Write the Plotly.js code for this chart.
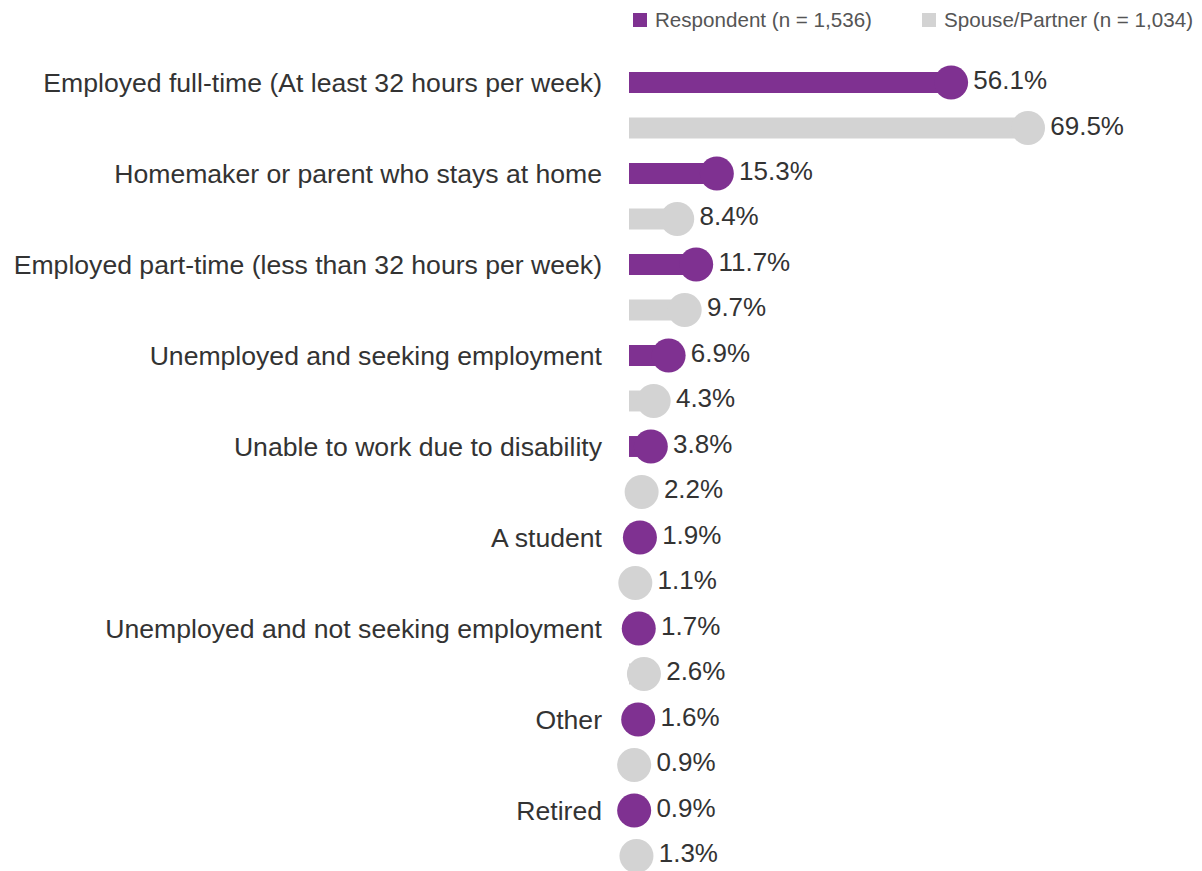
<!DOCTYPE html>
<html>
<head>
<meta charset="utf-8">
<script src="https://cdn.plot.ly/plotly-3.0.1.min.js"></script>
<style>html,body{margin:0;padding:0;background:#fff;}#chart{width:1202px;height:871px;}</style>
</head>
<body>
<div id="chart"></div>
<script>
const categories = [
  "Employed full-time (At least 32 hours per week)",
  "Homemaker or parent who stays at home",
  "Employed part-time (less than 32 hours per week)",
  "Unemployed and seeking employment",
  "Unable to work due to disability",
  "A student",
  "Unemployed and not seeking employment",
  "Other",
  "Retired"
];
const respondent = [56.1, 15.3, 11.7, 6.9, 3.8, 1.9, 1.7, 1.6, 0.9];
const spouse = [69.5, 8.4, 9.7, 4.3, 2.2, 1.1, 2.6, 0.9, 1.3];
const seriesNames = ["Respondent (n = 1,536)", "Spouse/Partner (n = 1,034)"];
const colors = ["#7f3191", "#d3d3d3"];

const rowsR = categories.map((c, i) => 2 * i);
const rowsS = categories.map((c, i) => 2 * i + 1);
const fmt = v => v.toFixed(1) + "%";
const font = "Arial, 'Liberation Sans', sans-serif";

const barW = 0.46;
const traces = [
  {type: "bar", orientation: "h", name: seriesNames[0], x: respondent, y: rowsR, width: barW,
   marker: {color: colors[0]}, hoverinfo: "skip"},
  {type: "bar", orientation: "h", name: seriesNames[1], x: spouse, y: rowsS, width: barW,
   marker: {color: colors[1]}, hoverinfo: "skip"},
  {type: "scatter", mode: "markers+text", name: seriesNames[0], x: respondent, y: rowsR, text: respondent.map(fmt),
   textposition: "middle right", textfont: {size: 26, color: "#333", family: font},
   marker: {size: 34, color: colors[0]}, cliponaxis: false, hoverinfo: "skip"},
  {type: "scatter", mode: "markers+text", name: seriesNames[1], x: spouse, y: rowsS, text: spouse.map(fmt),
   textposition: "middle right", textfont: {size: 26, color: "#333", family: font},
   marker: {size: 34, color: colors[1]}, cliponaxis: false, hoverinfo: "skip"}
];

// Legend drawn as swatches + labels at the top
const legendX = [633, 922];
const shapes = legendX.map((x, i) => ({
  type: "rect", xref: "paper", yref: "paper",
  x0: (x - 629) / 573, x1: (x + 14 - 629) / 573,
  y0: 1 + (40 - 27) / 831, y1: 1 + (40 - 13) / 831,
  fillcolor: colors[i], line: {width: 0}, layer: "above"
}));
const annotations = legendX.map((x, i) => ({
  xref: "paper", yref: "paper", x: (x + 20 - 629) / 573, y: 1 + (40 - 20) / 831,
  xanchor: "left", yanchor: "middle", showarrow: false, text: seriesNames[i],
  font: {size: 20.6, color: "#555", family: font}
}));

const layout = {
  width: 1202, height: 871,
  margin: {l: 629, r: 0, t: 40, b: 0, pad: 0},
  paper_bgcolor: "#fff", plot_bgcolor: "#fff",
  font: {family: font, color: "#333"},
  barmode: "overlay",
  showlegend: false,
  xaxis: {range: [0, 99.8], showgrid: false, zeroline: false, showticklabels: false, showline: false, fixedrange: true},
  yaxis: {range: [17.33, -0.934], showgrid: false, zeroline: false, showline: false,
          tickmode: "array", tickvals: rowsR, ticktext: categories, ticks: "",
          tickfont: {size: 26.6, color: "#333", family: font}, ticklabelstandoff: 26, fixedrange: true},
  shapes: shapes,
  annotations: annotations,
  hovermode: false
};

Plotly.newPlot("chart", traces, layout, {displayModeBar: false, staticPlot: true});
</script>
</body>
</html>
